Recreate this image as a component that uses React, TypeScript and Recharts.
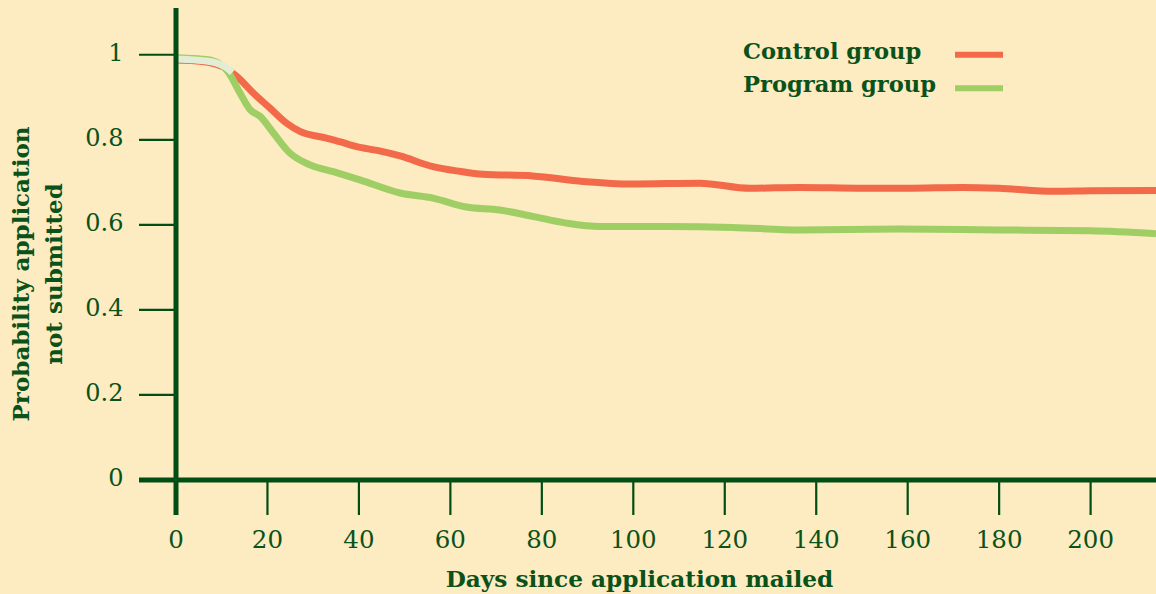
import React from 'react';
import { LineChart, Line, XAxis, YAxis, Legend } from 'recharts';

const BG = '#FDEBC1';
const AXIS = '#004E15';
const TEXT = '#0A5219';
const RED = '#F26A4A';
const GREEN = '#9FCE65';
const PALE = '#E3EDD6';
const SERIF = "'DejaVu Serif', serif";

const controlDays = [0, 4, 8, 11, 13.3, 16.9, 20.5, 24.2, 27.1, 32.9, 36, 39.5, 44, 49, 56.2, 62, 67.1, 78, 89, 99.9, 114.5, 125.5, 136.4, 150, 160, 172, 180, 192, 200, 214.3];
const controlValues = [0.988, 0.986, 0.98, 0.968, 0.949, 0.91, 0.875, 0.839, 0.82, 0.804, 0.795, 0.784, 0.775, 0.762, 0.737, 0.726, 0.719, 0.715, 0.702, 0.696, 0.698, 0.686, 0.688, 0.686, 0.686, 0.688, 0.686, 0.679, 0.68, 0.681];

const programDays = [0, 4, 8, 11.4, 14, 16.2, 18.4, 21.3, 24.9, 29.3, 34.4, 40.2, 49, 56.2, 63.5, 70.8, 78, 85.4, 92.7, 107.3, 121.7, 136.4, 158, 180, 200, 214.3];
const programValues = [0.993, 0.991, 0.986, 0.96, 0.91, 0.871, 0.855, 0.816, 0.769, 0.741, 0.725, 0.706, 0.675, 0.663, 0.642, 0.635, 0.62, 0.604, 0.596, 0.596, 0.594, 0.588, 0.59, 0.588, 0.586, 0.579];

const overlapDays = [0, 4, 8, 11, 12.3];
const overlapValues = [0.99, 0.988, 0.983, 0.97, 0.958];

const xTicks = [0, 20, 40, 60, 80, 100, 120, 140, 160, 180, 200];
const yTicks = [0, 0.2, 0.4, 0.6, 0.8, 1];

const toPoints = (days: number[], values: number[]) => days.map((d, i) => ({ day: d, value: values[i] }));
const controlData = toPoints(controlDays, controlValues);
const programData = toPoints(programDays, programValues);
const overlapData = toPoints(overlapDays, overlapValues);

const XTick = (props: any) => {
  const { x, y, payload } = props;
  const isZero = payload.value === 0;
  return (
    <g>
      <line x1={x} x2={x} y1={y - 35} y2={y} stroke={AXIS} strokeWidth={isZero ? 5 : 2.2} />
      <text x={x} y={y + 32.7} textAnchor="middle" fill={TEXT} fontFamily={SERIF} fontSize={24.5}>
        {payload.value}
      </text>
    </g>
  );
};

const YTick = (props: any) => {
  const { x, y, payload } = props;
  const isZero = payload.value === 0;
  return (
    <g>
      <line x1={x} x2={x + 37} y1={y} y2={y} stroke={AXIS} strokeWidth={isZero ? 5 : 2.2} />
      <text x={x - 15.5} y={y + 6} textAnchor="end" fill={TEXT} fontFamily={SERIF} fontSize={24}>
        {String(payload.value)}
      </text>
    </g>
  );
};

const YTitle = (props: any) => {
  const vb = props.viewBox || { x: 0, y: 8, width: 176, height: 472 };
  const cy = vb.y + 266;
  return (
    <g fill={TEXT} fontFamily={SERIF} fontWeight="bold" fontSize={23} textAnchor="middle">
      <text transform={`translate(${vb.x + 29}, ${cy}) rotate(-90)`}>Probability application</text>
      <text transform={`translate(${vb.x + 62}, ${cy}) rotate(-90)`}>not submitted</text>
    </g>
  );
};

const XTitle = (props: any) => {
  const vb = props.viewBox || { x: 176, y: 480, width: 980, height: 114 };
  return (
    <text x={vb.x + 463.5} y={vb.y + 107} fill={TEXT} fontFamily={SERIF} fontWeight="bold" fontSize={23.2} textAnchor="middle">
      Days since application mailed
    </text>
  );
};

const renderLegend = (props: any) => {
  const items = (props.payload || []).filter((p: any) => p.type !== 'none' && p.value !== 'Overlap');
  return (
    <svg width={320} height={90} style={{ display: 'block' }}>
      {items.map((p: any, i: number) => (
        <g key={p.value}>
          <text x={43} y={39 + i * 32.5} fill={TEXT} fontFamily={SERIF} fontWeight="bold" fontSize={22.6}>
            {p.value}
          </text>
          <line x1={255} x2={303} y1={34.7 + i * 33.6} y2={34.7 + i * 33.6} stroke={p.color} strokeWidth={6} />
        </g>
      ))}
    </svg>
  );
};

export default function App() {
  return (
    <div style={{ position: 'absolute', left: 0, top: 0, width: 1156, height: 594, background: BG }}>
      <LineChart width={1156} height={594} margin={{ top: 8, right: 0, bottom: 0, left: 0 }}>
        <XAxis
          type="number"
          dataKey="day"
          domain={[0, 214.3]}
          ticks={xTicks}
          interval={0}
          allowDataOverflow
          height={114}
          axisLine={{ stroke: AXIS, strokeWidth: 5 }}
          tickLine={false}
          tickSize={35}
          tickMargin={0}
          tick={<XTick />}
          label={{ content: <XTitle /> }}
        />
        <YAxis
          type="number"
          dataKey="value"
          domain={[0, 1.11]}
          ticks={yTicks}
          interval={0}
          allowDataOverflow
          width={176}
          axisLine={{ stroke: AXIS, strokeWidth: 5 }}
          tickLine={false}
          tickSize={37}
          tickMargin={0}
          tick={<YTick />}
          label={{ content: <YTitle /> }}
        />
        <Legend
          layout="vertical"
          align="center"
          verticalAlign="middle"
          content={renderLegend}
          wrapperStyle={{ position: 'absolute', left: 700, top: 20, width: 320 }}
        />
        <Line data={controlData} dataKey="value" name="Control group" type="monotone" stroke={RED} strokeWidth={7} dot={false} activeDot={false} isAnimationActive={false} />
        <Line data={programData} dataKey="value" name="Program group" type="monotone" stroke={GREEN} strokeWidth={7} dot={false} activeDot={false} isAnimationActive={false} />
        <Line data={overlapData} dataKey="value" name="Overlap" legendType="none" type="monotone" stroke={PALE} strokeWidth={7} dot={false} activeDot={false} isAnimationActive={false} />
      </LineChart>
    </div>
  );
}
